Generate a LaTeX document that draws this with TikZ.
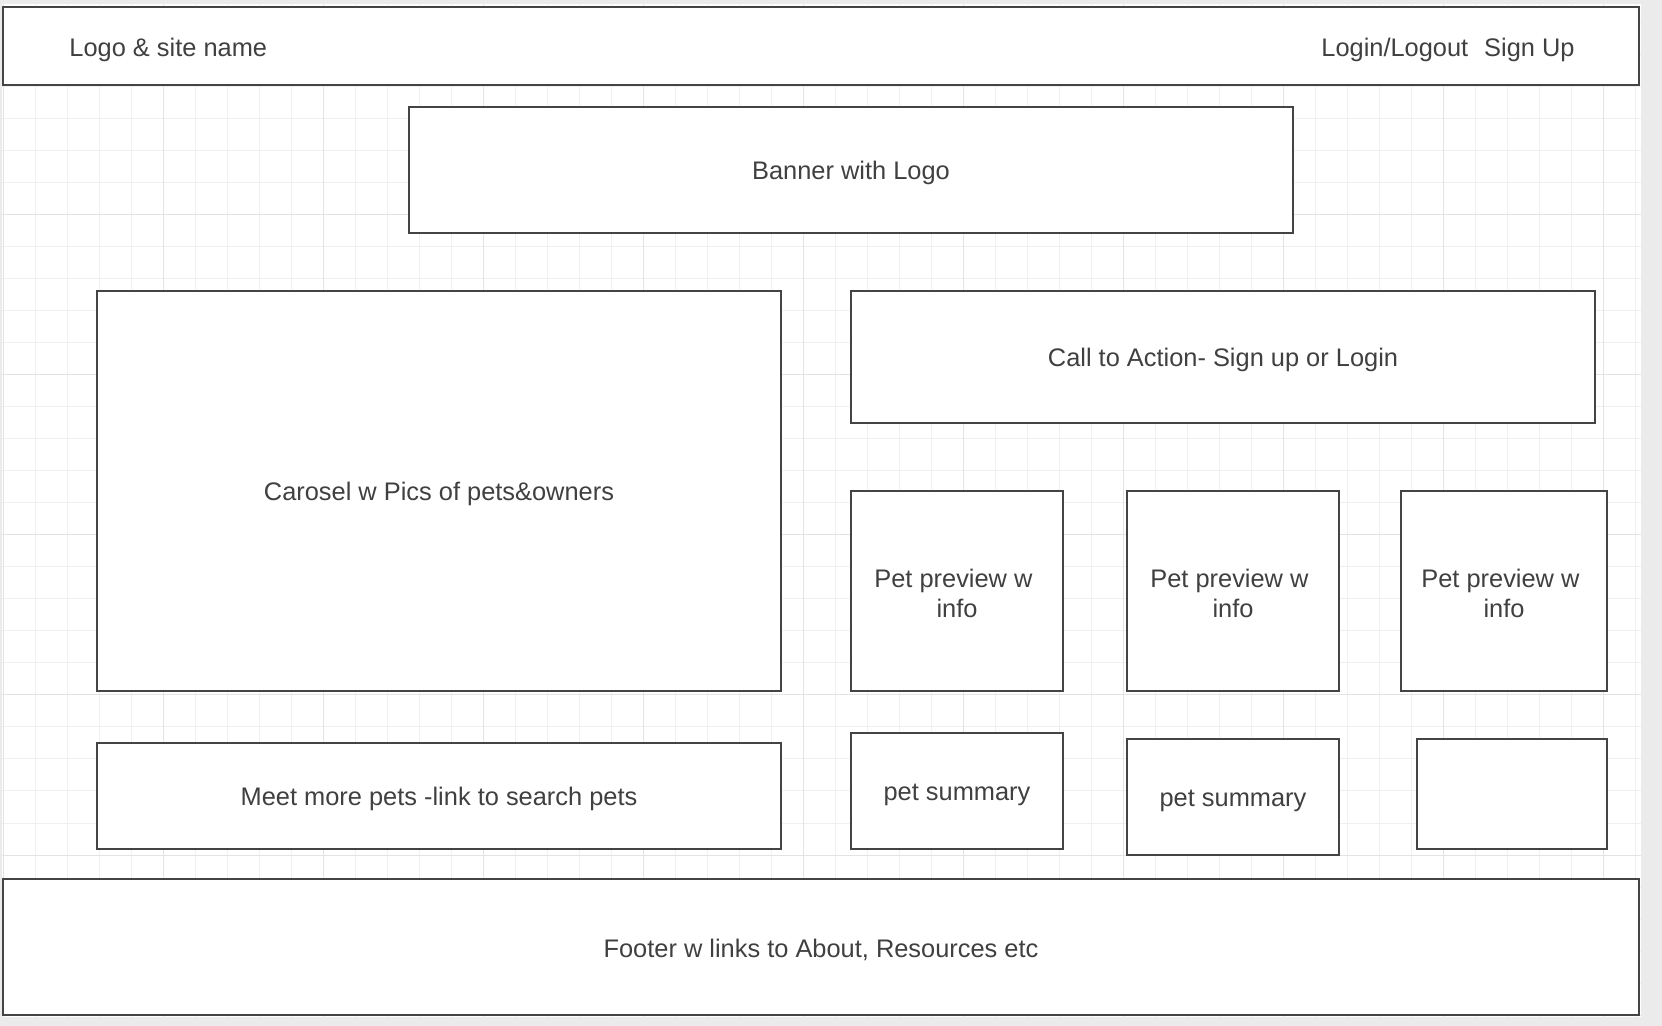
\documentclass[tikz,border=0pt]{standalone}
\usepackage{fontspec}
\setmainfont{Liberation Sans}
\definecolor{pagegray}{HTML}{EBEBEB}
\definecolor{gridminor}{HTML}{F0F0F0}
\definecolor{gridmajor}{HTML}{E3E3E3}
\definecolor{boxline}{HTML}{444444}
\definecolor{ink}{HTML}{404040}
% uniform line box so every text line sits at the same height
\newcommand{\linestrut}{\rule[-0.4pt]{0pt}{12.4pt}}
% wireframe block from (x1,y1) to (x2,y2), in pixel units
\newcommand{\wfblock}[6]{%
  \node[wbox, minimum width={(#4-#2)*0.5pt}, minimum height={(#5-#3)*0.5pt}]
    (#1) at ({(#2+#4)/2},{(#3+#5)/2}) {\linestrut#6};}
\begin{document}
\begin{tikzpicture}[x=0.5pt,y=-0.5pt,
  wbox/.style={draw=boxline, fill=white, line width=0.7pt, inner sep=0pt,
    text=ink, align=center, font=\fontsize{12.7}{15}\selectfont},
  lbl/.style={inner sep=0pt, text=ink, font=\fontsize{12.7}{15}\selectfont},
  minorline/.style={draw=gridminor, line width=0.5pt},
  majorline/.style={draw=gridmajor, line width=0.5pt}]
\useasboundingbox (0,0) rectangle (1662,1026);
% page and canvas
\fill[pagegray] (0,0) rectangle (1662,1026);
\fill[white] (2,4) rectangle (1641,1017);
% grid paper
\begin{scope}
  \clip (2,4) rectangle (1641,1017);
  \foreach \x in {35,67,...,1640} \draw[minorline] (\x,4) -- (\x,1017);
  \foreach \y in {23,55,...,1016} \draw[minorline] (2,\y) -- (1641,\y);
  \foreach \x in {3,163,...,1640} \draw[majorline] (\x,4) -- (\x,1017);
  \foreach \y in {55,215,...,1016} \draw[majorline] (2,\y) -- (1641,\y);
\end{scope}
% header bar
\wfblock{header}{3}{7}{1639}{85}{}
\node[lbl, anchor=west] (logo) at (69,47.5) {\linestrut Logo \& site name};
\node[lbl, anchor=west] (account) at (1321,47.5) {\linestrut Login/Logout\hspace{8pt}Sign Up};
% banner
\wfblock{banner}{409}{107}{1293}{233}{Banner with Logo}
% left column
\wfblock{carousel}{97}{291}{781}{691}{Carosel w Pics of pets\&owners}
\wfblock{meetmore}{97}{743}{781}{849}{Meet more pets -link to search pets}
% right column
\wfblock{cta}{851}{291}{1595}{423}{Call to Action- Sign up or Login}
\wfblock{preview1}{851}{491}{1063}{691}{Pet preview w\kern0.28em\\\linestrut info}
\wfblock{preview2}{1127}{491}{1339}{691}{Pet preview w\kern0.28em\\\linestrut info}
\wfblock{preview3}{1401}{491}{1607}{691}{Pet preview w\kern0.28em\\\linestrut info}
\wfblock{summary1}{851}{733}{1063}{849}{pet summary}
\wfblock{summary2}{1127}{739}{1339}{855}{pet summary}
\wfblock{summary3}{1417}{739}{1607}{849}{}
% footer
\wfblock{footer}{3}{879}{1639}{1015}{Footer w links to About, Resources etc}
\end{tikzpicture}
\end{document}
